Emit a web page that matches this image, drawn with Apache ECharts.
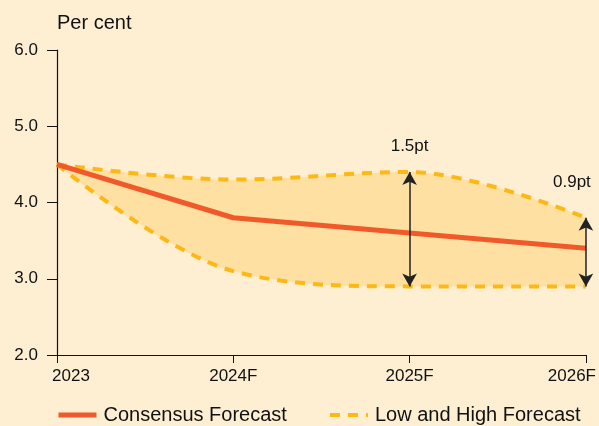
<!DOCTYPE html>
<html>
<head>
<meta charset="utf-8">
<script src="https://cdn.jsdelivr.net/npm/echarts@6/dist/echarts.min.js"></script>
<style>
html,body{margin:0;padding:0;background:#FEEFD3;}
#c{width:599px;height:426px;}
</style>
</head>
<body>
<div id="c"></div>
<script>
const categories = ['2023', '2024F', '2025F', '2026F'];
const consensus = [4.5, 3.8, 3.6, 3.4];
const lowForecast = [4.5, 3.1, 2.9, 2.9];
const highForecast = [4.5, 4.3, 4.4, 3.8];
const rangeCategories = ['2025F', '2026F'];
const rangeLabels = ['1.5pt', '0.9pt'];
const yTicks = [2, 3, 4, 5, 6];

const idx = c => categories.indexOf(c);
const bandWidth = highForecast.map((h, i) => +(h - lowForecast[i]).toFixed(2));

const narrow = "'Liberation Sans', Arial, sans-serif";
const regular = "'Liberation Sans', Arial, sans-serif";

const chart = echarts.init(document.getElementById('c'), null, {renderer: 'canvas'});
const smooth = 0.35;

const arrowData = rangeCategories.map(c => [
  {coord: [c, lowForecast[idx(c)]]},
  {coord: [c, highForecast[idx(c)]]}
]);
const labelOffsets = [[0, -26], [-14, -35]];
const pointData = rangeCategories.map((c, i) => ({
  coord: [c, highForecast[idx(c)]],
  label: {offset: labelOffsets[i], formatter: rangeLabels[i]}
}));

const xLabelPads = [[0, 0, 0, 28], [0, 0, 0, 0], [0, 0, 0, 0], [0, 28, 0, 0]];
const xData = categories.map((c, i) => ({value: c, textStyle: {padding: xLabelPads[i]}}));

chart.setOption({
  backgroundColor: '#FEEFD3',
  animation: false,
  grid: {left: 57, right: 13, top: 50, bottom: 71, containLabel: false},
  legend: {
    data: [
      {name: 'Consensus Forecast', lineStyle: {width: 5}},
      {name: 'Low and High Forecast', lineStyle: {width: 4}}
    ],
    left: 51, top: 400,
    itemWidth: 38, itemHeight: 12, itemGap: 41,
    itemStyle: {opacity: 0},
    textStyle: {fontFamily: regular, fontSize: 20, color: '#111', padding: [0, 0, 0, 2]}
  },
  xAxis: {
    type: 'category', data: xData, boundaryGap: false,
    axisLine: {lineStyle: {color: '#111', width: 1.2}},
    axisTick: {show: true, length: 8, lineStyle: {color: '#111'}},
    axisLabel: {fontFamily: narrow, fontSize: 17, color: '#111', margin: 13}
  },
  yAxis: {
    type: 'value', min: 2, max: 6, interval: 1,
    name: 'Per cent', nameLocation: 'end', nameGap: 17,
    nameTextStyle: {fontFamily: regular, fontSize: 20, color: '#111', align: 'left'},
    axisLine: {show: true, lineStyle: {color: '#111', width: 1.2}},
    axisTick: {show: true, length: 10, lineStyle: {color: '#111'}},
    splitLine: {show: false},
    axisLabel: {fontFamily: narrow, fontSize: 17, color: '#111', margin: 19,
      formatter: v => v.toFixed(1)}
  },
  series: [
    {
      name: 'Low and High Forecast', type: 'line', data: lowForecast, stack: 'band',
      smooth: smooth, symbol: 'none', z: 3,
      lineStyle: {color: '#FDB813', width: 4, type: [10, 8]},
      itemStyle: {color: '#FDB813'},
      markLine: {
        silent: true, symbol: ['arrow', 'arrow'], symbolSize: [11, 13],
        label: {show: false},
        lineStyle: {color: '#222', width: 1.5, type: 'solid'},
        data: arrowData
      }
    },
    {
      name: 'band', type: 'line', data: bandWidth, stack: 'band',
      smooth: smooth, symbol: 'none', z: 1,
      lineStyle: {opacity: 0, width: 0},
      areaStyle: {color: '#FFE0A3', opacity: 1}
    },
    {
      name: 'Low and High Forecast', type: 'line', data: highForecast,
      smooth: smooth, symbol: 'none', z: 3,
      lineStyle: {color: '#FDB813', width: 4, type: [10, 8]},
      itemStyle: {color: '#FDB813'},
      markPoint: {
        symbol: 'circle', symbolSize: 1, itemStyle: {color: 'rgba(0,0,0,0)'},
        label: {show: true, position: 'inside', fontFamily: narrow, fontSize: 17, color: '#111'},
        data: pointData
      }
    },
    {
      name: 'Consensus Forecast', type: 'line', data: consensus,
      symbol: 'none', z: 4,
      lineStyle: {color: '#F05A2A', width: 5},
      itemStyle: {color: '#F05A2A'}
    }
  ]
});
</script>
</body>
</html>
